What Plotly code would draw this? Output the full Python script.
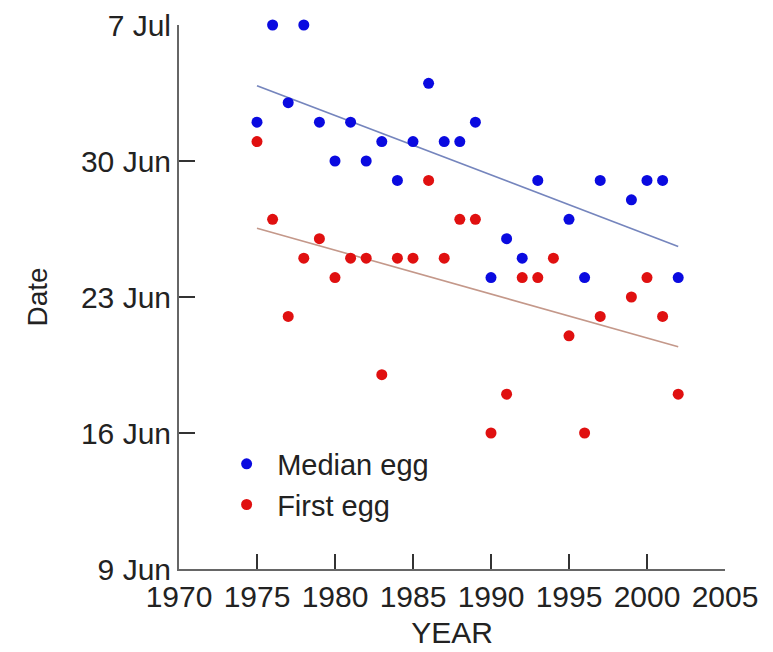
import pandas as pd
import plotly.graph_objects as go

REF_YEAR = "2001"

median_years = [1975, 1976, 1977, 1978, 1979, 1980, 1981, 1982, 1983, 1984, 1985, 1986, 1987,
                1988, 1989, 1990, 1991, 1992, 1993, 1995, 1996, 1997, 1999, 2000, 2001, 2002]
median_dates = ["07-02", "07-07", "07-03", "07-07", "07-02", "06-30", "07-02", "06-30", "07-01",
                "06-29", "07-01", "07-04", "07-01", "07-01", "07-02", "06-24", "06-26", "06-25",
                "06-29", "06-27", "06-24", "06-29", "06-28", "06-29", "06-29", "06-24"]

first_years = [1975, 1976, 1977, 1978, 1979, 1980, 1981, 1982, 1983, 1984, 1985, 1986, 1987, 1988,
               1989, 1990, 1991, 1992, 1993, 1994, 1995, 1996, 1997, 1999, 2000, 2001, 2002]
first_dates = ["07-01", "06-27", "06-22", "06-25", "06-26", "06-24", "06-25", "06-25", "06-19",
               "06-25", "06-25", "06-29", "06-25", "06-27", "06-27", "06-16", "06-18", "06-24",
               "06-24", "06-25", "06-21", "06-16", "06-22", "06-23", "06-24", "06-22", "06-18"]

trend_years = [1975, 2002]
median_trend = ["07-03 21:00", "06-25 14:30"]
first_trend = ["06-26 13:00", "06-20 10:30"]

y_tick_dates = ["06-09", "06-16", "06-23", "06-30", "07-07"]
y_tick_labels = ["9 Jun", "16 Jun", "23 Jun", "30 Jun", "7 Jul"]
x_ticks = [1970, 1975, 1980, 1985, 1990, 1995, 2000, 2005]


def full(dates):
    return [pd.Timestamp(f"{REF_YEAR}-{d}") for d in dates]


FONT = "Liberation Sans, Arial, sans-serif"

fig = go.Figure()
fig.add_trace(go.Scatter(x=trend_years, y=full(median_trend), mode="lines",
                         line=dict(color="#7585bd", width=1.6), showlegend=False,
                         hoverinfo="skip"))
fig.add_trace(go.Scatter(x=trend_years, y=full(first_trend), mode="lines",
                         line=dict(color="#c4988a", width=1.6), showlegend=False,
                         hoverinfo="skip"))
fig.add_trace(go.Scatter(x=median_years, y=full(median_dates), mode="markers",
                         name="Median egg", cliponaxis=False,
                         marker=dict(color="#0a0ae0", size=11)))
fig.add_trace(go.Scatter(x=first_years, y=full(first_dates), mode="markers",
                         name="First egg", cliponaxis=False,
                         marker=dict(color="#e01010", size=11)))

fig.update_layout(
    width=773, height=652,
    margin=dict(l=179, r=48, t=25, b=83, autoexpand=False),
    paper_bgcolor="white", plot_bgcolor="white",
    font=dict(family=FONT, size=30, color="#222"),
    showlegend=True,
    legend=dict(x=0.068, y=0.24, xanchor="left", yanchor="top",
                bgcolor="rgba(0,0,0,0)", font=dict(size=29, color="#222"),
                itemwidth=51, tracegroupgap=0),
    xaxis=dict(range=[1970, 2005], tickmode="array", tickvals=x_ticks,
               ticktext=[str(v) for v in x_ticks],
               showline=True, linecolor="#666", linewidth=2, showgrid=False, zeroline=False,
               ticks="inside", ticklen=15, tickwidth=2, tickcolor="#333", automargin=False,
               layer="above traces",
               title=dict(text="YEAR", font=dict(size=30), standoff=10)),
    yaxis=dict(type="date", range=full(["06-09", "07-07"]), tickmode="array",
               tickvals=full(y_tick_dates), ticktext=y_tick_labels,
               showline=True, linecolor="#666", linewidth=2, showgrid=False, zeroline=False,
               ticks="inside", ticklen=16, tickwidth=2, tickcolor="#333", automargin=False,
               layer="above traces",
               title=dict(text="Date", font=dict(size=28), standoff=25)),
)

fig.write_html("out.html")
